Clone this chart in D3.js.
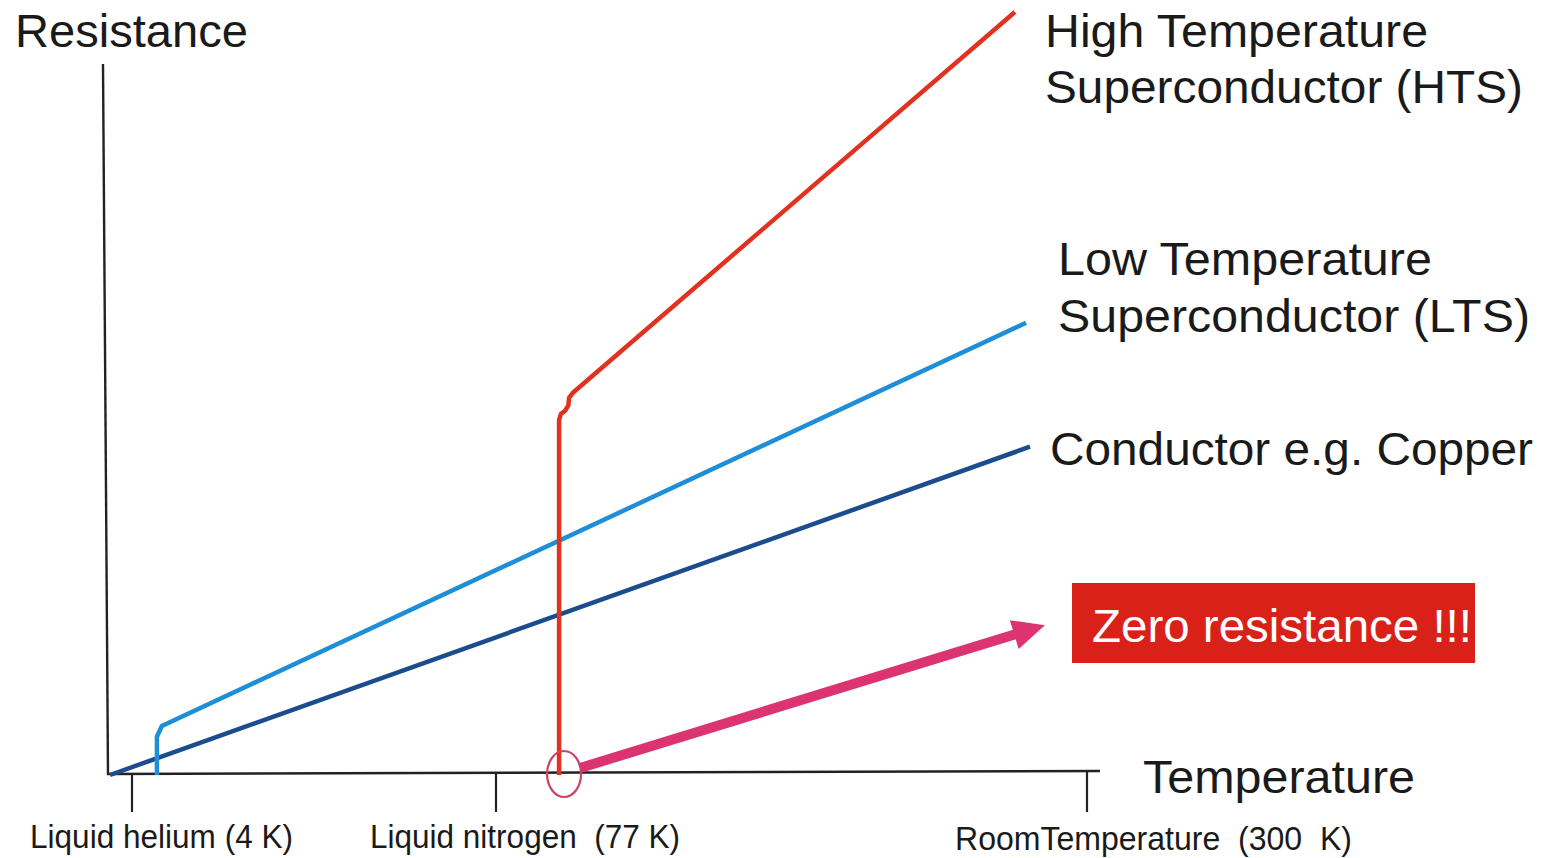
<!DOCTYPE html>
<html>
<head>
<meta charset="utf-8">
<script src="https://cdn.jsdelivr.net/npm/d3@7"></script>
<style>
  html, body { margin: 0; padding: 0; background: #fff; }
  svg { display: block; }
  text { font-family: "Liberation Sans", Arial, Helvetica, sans-serif; fill: #1a1a1a; white-space: pre; }
</style>
</head>
<body>
<script>
// temperature (K) on x, resistance (arbitrary units) on y
const tickTemps = [4, 77, 300]
const tickLabels = ['Liquid helium (4 K)', 'Liquid nitrogen  (77 K)', 'RoomTemperature  (300  K)']

const conductorT = [0, 278.5]
const conductorR = [0, 46.9]

const ltsT = [9, 9, 10, 277]
const ltsR = [0, 5.5, 7, 64.6]

const htsT = [100.8, 100.8, 101.5, 103.0, 104.3, 104.6, 106.0, 272.8]
const htsR = [0, 50.7, 51.6, 52.0, 52.8, 53.9, 54.6, 109]

// annotation: arrow from the HTS transition to the "zero resistance" box
const arrowT = [108.7, 284.1]
const arrowR = [1, 21.4]

const W = 1545, H = 858

const svg = d3.select('body').append('svg')
  .attr('width', W)
  .attr('height', H)

// the original is not linear in temperature, so piecewise
const x = d3.scaleLinear()
  .domain([0, 4, 77, 300])
  .range([110, 132, 496, 1087])

const y = d3.scaleLinear()
  .domain([0, 100])
  .range([775, 75])

const line = d3.line()
  .x(d => x(d[0]))
  .y(d => y(d[1]))

const zipped = (ts, rs) => ts.map((t, i) => [t, rs[i]])

// axes
svg.append('path')
  .attr('d', `M103,64 L108,${y(0)}`)
  .attr('stroke', '#222')
  .attr('stroke-width', 2.4)
  .attr('fill', 'none')

svg.append('path')
  .attr('d', `M107,${y(0) - 1} L1100,${y(0) - 4}`)
  .attr('stroke', '#222')
  .attr('stroke-width', 2.4)
  .attr('fill', 'none')

const ticks = svg.append('g')
ticks.selectAll('line')
  .data(tickTemps)
  .join('line')
  .attr('x1', d => x(d))
  .attr('x2', d => x(d))
  .attr('y1', d => y(0) - 1 - 3 * (x(d) - 107) / 993)
  .attr('y2', 812)
  .attr('stroke', '#222')
  .attr('stroke-width', 2.2)

const tickLabelPos = [
  { x: 30, y: 848, w: 263 },
  { x: 370, y: 848, w: 310 },
  { x: 955, y: 850, w: 397 },
]
ticks.selectAll('text')
  .data(tickLabels)
  .join('text')
  .attr('x', (d, i) => tickLabelPos[i].x)
  .attr('y', (d, i) => tickLabelPos[i].y)
  .attr('textLength', (d, i) => tickLabelPos[i].w)
  .attr('lengthAdjust', 'spacingAndGlyphs')
  .style('font-size', '34px')
  .text(d => d)

// series
svg.append('path')
  .attr('d', line(zipped(conductorT, conductorR)))
  .attr('stroke', '#1b4c8e')
  .attr('stroke-width', 4.5)
  .attr('fill', 'none')

svg.append('path')
  .attr('d', line(zipped(ltsT, ltsR)))
  .attr('stroke', '#1e8ed6')
  .attr('stroke-width', 4.5)
  .attr('fill', 'none')

svg.append('path')
  .attr('d', line(zipped(htsT, htsR)))
  .attr('stroke', '#e2311f')
  .attr('stroke-width', 4.5)
  .attr('stroke-linejoin', 'round')
  .attr('fill', 'none')

// ellipse round the HTS transition point
svg.append('ellipse')
  .attr('cx', x(htsT[0]) + 5)
  .attr('cy', y(0) - 1)
  .attr('rx', 17)
  .attr('ry', 23)
  .attr('stroke', '#cc4466')
  .attr('stroke-width', 2.2)
  .attr('fill', 'none')

// arrow
const a0 = [x(arrowT[0]), y(arrowR[0])]
const a1 = [x(arrowT[1]), y(arrowR[1])]
const ang = Math.atan2(a1[1] - a0[1], a1[0] - a0[0])
const headLen = 32, headHalf = 15
const base = [a1[0] - headLen * Math.cos(ang), a1[1] - headLen * Math.sin(ang)]
const nx = -Math.sin(ang), ny = Math.cos(ang)

svg.append('line')
  .attr('x1', a0[0]).attr('y1', a0[1])
  .attr('x2', base[0] + 2 * Math.cos(ang)).attr('y2', base[1] + 2 * Math.sin(ang))
  .attr('stroke', '#dc3470')
  .attr('stroke-width', 10)

svg.append('polygon')
  .attr('points', [
    a1,
    [base[0] + nx * headHalf, base[1] + ny * headHalf],
    [base[0] - nx * headHalf, base[1] - ny * headHalf],
  ].map(p => p.join(',')).join(' '))
  .attr('fill', '#dc3470')

// zero resistance box
svg.append('rect')
  .attr('x', 1072)
  .attr('y', 583)
  .attr('width', 403)
  .attr('height', 80)
  .attr('fill', '#da2119')

svg.append('text')
  .attr('x', 1092)
  .attr('y', 642)
  .attr('textLength', 380)
  .attr('lengthAdjust', 'spacingAndGlyphs')
  .style('font-size', '47px')
  .style('fill', '#fff')
  .text('Zero resistance !!!')

// labels
const labels = [
  { text: 'Resistance', x: 15, y: 47, w: 233 },
  { text: 'Temperature', x: 1143, y: 793, w: 272 },
  { text: 'High Temperature', x: 1045, y: 47, w: 383 },
  { text: 'Superconductor (HTS)', x: 1045, y: 103, w: 478 },
  { text: 'Low Temperature', x: 1058, y: 275, w: 374 },
  { text: 'Superconductor (LTS)', x: 1058, y: 332, w: 472 },
  { text: 'Conductor e.g. Copper', x: 1050, y: 465, w: 483 },
]

svg.append('g').selectAll('text')
  .data(labels)
  .join('text')
  .attr('x', d => d.x)
  .attr('y', d => d.y)
  .attr('textLength', d => d.w)
  .attr('lengthAdjust', 'spacingAndGlyphs')
  .style('font-size', '47px')
  .text(d => d.text)
</script>
</body>
</html>
